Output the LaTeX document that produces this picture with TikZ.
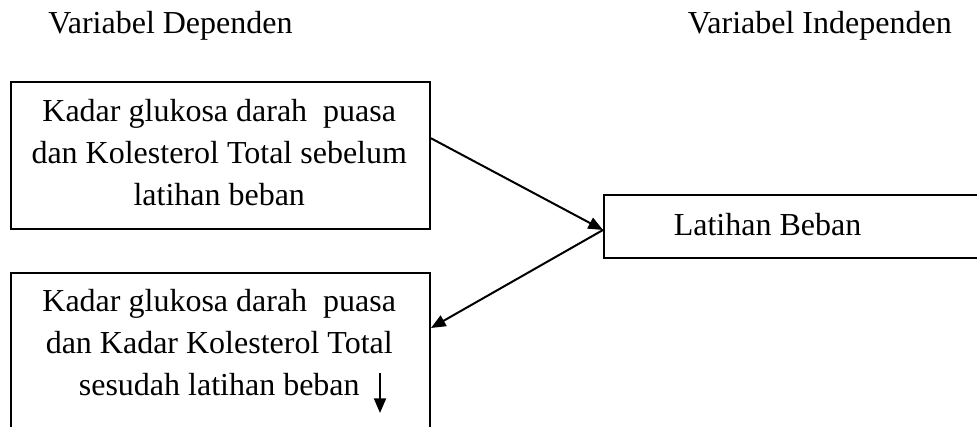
\documentclass[tikz,border=0pt]{standalone}
\usepackage{fontspec}
\setmainfont{Liberation Serif}
\usetikzlibrary{arrows.meta}
\begin{document}
\begin{tikzpicture}[x=0.75pt,y=-0.75pt,
  boxshape/.style={draw,line width=1.5pt,inner sep=0pt,anchor=north west},
  lbl/.style={font=\fontsize{24pt}{31.3pt}\selectfont,align=center,inner sep=0pt},
  conn/.style={line width=1.5pt,-{Triangle[length=11pt,width=9pt]}}]
\useasboundingbox (0,0) rectangle (977,426);
\clip (0,0) rectangle (977,426);
% titles
\node[lbl,anchor=base west] (tdep) at (48,33) {Variabel Dependen};
\node[lbl,anchor=base east] (tind) at (952,33) {Variabel Independen};
% boxes
\node[boxshape,minimum width=314.6pt,minimum height=110.6pt] (pre) at (9.5,80.5) {};
\node[boxshape,minimum width=314.6pt,minimum height=171pt] (post) at (9.5,271.7) {};
\node[boxshape,minimum width=335pt,minimum height=47.25pt] (lb) at (603,194) {};
% texts
\node[lbl] (pretext) at (219.25,152.5) {Kadar glukosa darah\ \ puasa\\dan Kolesterol Total sebelum\\latihan beban};
\node[lbl] (posttext) at (219.25,342.5) {Kadar glukosa darah\ \ puasa\\dan Kadar Kolesterol Total\\sesudah latihan beban};
\node[lbl,anchor=base] (lbtext) at (767.5,235) {Latihan Beban};
% connectors
\coordinate (s1) at ([yshift=12.75pt]pre.east);
\coordinate (meet) at ([yshift=-2.6pt]lb.west);
\coordinate (e2) at ([yshift=-42.2pt]post.north east);
\draw[conn] (s1) -- (meet);
\draw[conn] (meet) -- (e2);
\coordinate (d1) at (380,373);
\coordinate (d2) at (380,413);
\draw[conn] (d1) -- (d2);
\end{tikzpicture}
\end{document}
